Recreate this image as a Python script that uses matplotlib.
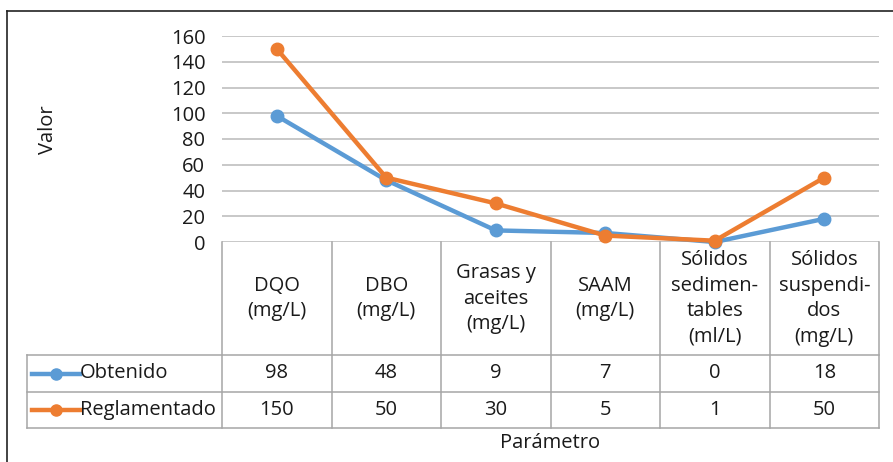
import matplotlib.pyplot as plt
from matplotlib.lines import Line2D

plt.rcParams['font.family'] = ['Open Sans', 'DejaVu Sans']

categories = ["DQO\n(mg/L)", "DBO\n(mg/L)", "Grasas y\naceites\n(mg/L)", "SAAM\n(mg/L)",
              "Sólidos\nsedimen-\ntables\n(ml/L)", "Sólidos\nsuspendi-\ndos\n(mg/L)"]
obtenido = [98, 48, 9, 7, 0, 18]
reglamentado = [150, 50, 30, 5, 1, 50]
series_names = ["Obtenido", "Reglamentado"]
yticks = [0, 20, 40, 60, 80, 100, 120, 140, 160]

blue = '#5B9BD5'
orange = '#ED7D31'
grid_col = '#BFBFBF'
txt = '#1a1a1a'
fs = 14.5

W, H = 893, 462
fig = plt.figure(figsize=(W / 100, H / 100), dpi=100)

# plot area in pixels
px_l, px_r, px_top, px_zero = 222, 879, 36, 242
ax = fig.add_axes([px_l / W, 1 - px_zero / H, (px_r - px_l) / W, (px_zero - px_top) / H])
n = len(categories)
x = list(range(n))
ax.set_xlim(-0.5, n - 0.5)
ax.set_ylim(0, 160)
for v in yticks:
    ax.axhline(v, color=grid_col, lw=1.2, zorder=0)
for s in ax.spines.values():
    s.set_visible(False)
ax.set_xticks([])
ax.set_yticks(yticks)
ax.tick_params(axis='y', length=0, labelsize=fs, pad=12, labelcolor=txt)

ax.plot(x, obtenido, color=blue, lw=3.2, marker='o', ms=9, clip_on=False, zorder=3)
ax.plot(x, reglamentado, color=orange, lw=3.2, marker='o', ms=9, clip_on=False, zorder=4)

fig.text(48 / W, 1 - 130 / H, "Valor", rotation=90, ha='center', va='center', fontsize=fs, color=txt)

# data table below
tb_l, tb_bottom = 27, 428
row_h = [113, 37, 36]
col_w = (px_r - px_l) / n
leg_left = -0.5 - (px_l - tb_l) / col_w
tax = fig.add_axes([tb_l / W, 1 - tb_bottom / H, (px_r - tb_l) / W, (tb_bottom - px_zero) / H])
tax.set_xlim(leg_left, n - 0.5)
tax.set_ylim(sum(row_h), 0)
tax.axis('off')

edges_y = [0, row_h[0], row_h[0] + row_h[1], sum(row_h)]
lc = '#A6A6A6'
lw = 1.1
# vertical lines
for i in range(n + 1):
    tax.plot([i - 0.5, i - 0.5], [0, sum(row_h)], color=lc, lw=lw, clip_on=False)
tax.plot([leg_left, leg_left], [edges_y[1], edges_y[3]], color=lc, lw=lw, clip_on=False)
# horizontal lines
for yy in edges_y[1:]:
    tax.plot([leg_left, n - 0.5], [yy, yy], color=lc, lw=lw, clip_on=False)

for i, c in enumerate(categories):
    tax.text(i, row_h[0] / 2, c, ha='center', va='center', fontsize=fs, color=txt, linespacing=1.36)

for r, (name, vals, col) in enumerate(zip(series_names, [obtenido, reglamentado], [blue, orange])):
    yc = (edges_y[r + 1] + edges_y[r + 2]) / 2
    for i, v in enumerate(vals):
        tax.text(i, yc, str(v), ha='center', va='center', fontsize=fs, color=txt)
    lx0 = leg_left + 5 / col_w
    lx1 = leg_left + 53 / col_w
    tax.plot([lx0, lx1], [yc, yc], color=col, lw=3.2, clip_on=False)
    tax.plot([(lx0 + lx1) / 2], [yc], marker='o', color=col, ms=8, clip_on=False)
    tax.text(lx1, yc, name, ha='left', va='center', fontsize=fs, color=txt)

fig.text(550 / W, 1 - 443 / H, "Parámetro", ha='center', va='center', fontsize=fs, color=txt)

# chart border (cropped)
fig.add_artist(Line2D([7 / W, 7 / W], [0, 1 - 11 / H], color='#222222', lw=1.2))
fig.add_artist(Line2D([7 / W, 1], [1 - 11 / H, 1 - 11 / H], color='#222222', lw=1.2))

fig.savefig('out.png', dpi=100)
